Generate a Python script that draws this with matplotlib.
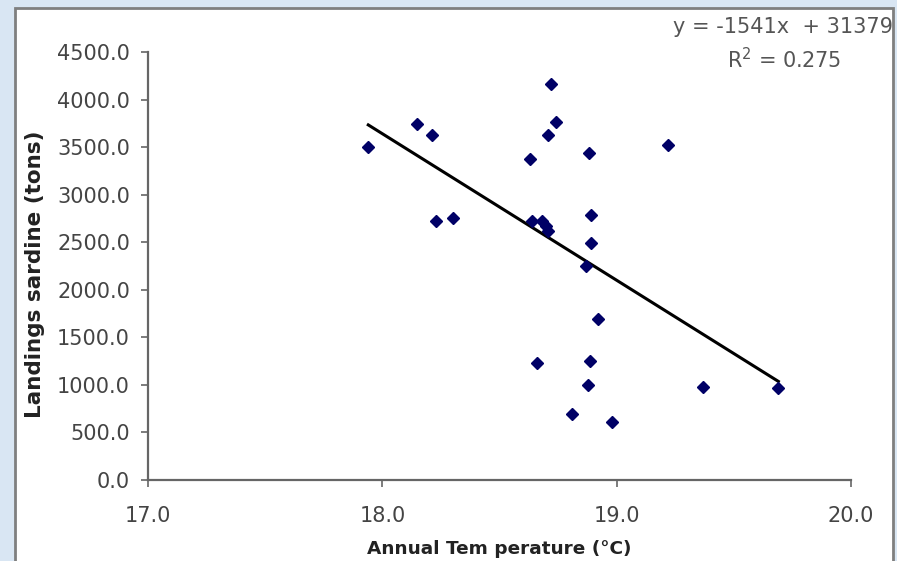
import matplotlib.pyplot as plt
from matplotlib.patches import Rectangle

plt.rcParams['font.family'] = ['DejaVu Sans']

# annual temperature (degC) vs sardine landings (tons)
temperature = [17.94, 18.15, 18.21, 18.23, 18.30, 18.72, 18.74, 18.705, 18.63, 18.88,
               19.22, 18.64, 18.68, 18.70, 18.705, 18.89, 18.89, 18.87, 18.92, 18.66,
               18.885, 18.876, 18.81, 18.98, 19.37, 19.69]
landings = [3500, 3742, 3626, 2722, 2754, 4162, 3763, 3626, 3374, 3437,
            3521, 2722, 2722, 2670, 2620, 2785, 2490, 2249, 1692, 1230,
            1250, 999, 694, 610, 978, 967]

slope = -1541
intercept = 31379
r_squared = 0.275

x_ticks = [17.0, 18.0, 19.0, 20.0]
y_ticks = [0, 500, 1000, 1500, 2000, 2500, 3000, 3500, 4000, 4500]

fig = plt.figure(figsize=(8.97, 5.61), dpi=100, facecolor='#d9e6f3')

# white chart area with grey frame
frame = Rectangle((15 / 897, -0.05), (893 - 15) / 897, 1.05 - 8 / 561,
                  transform=fig.transFigure, facecolor='white', edgecolor='#7f7f7f',
                  linewidth=2, zorder=0)
fig.patches.append(frame)

ax = fig.add_axes([148 / 897, 1 - 480 / 561, (851 - 148) / 897, (480 - 52) / 561])
ax.set_zorder(2)
ax.set_facecolor('none')

ax.plot(temperature, landings, linestyle='none', marker='D', markersize=6,
        color='#000066', zorder=3)

x_fit = [min(temperature), max(temperature)]
y_fit = [slope * x + intercept for x in x_fit]
ax.plot(x_fit, y_fit, color='black', linewidth=2.2, zorder=2)

ax.set_xlim(17, 20)
ax.set_ylim(0, 4500)
ax.set_xticks(x_ticks)
ax.set_xticklabels(['%.1f' % t for t in x_ticks])
ax.set_yticks(y_ticks)
ax.set_yticklabels(['%.1f' % t for t in y_ticks])

for side in ['top', 'right']:
    ax.spines[side].set_visible(False)
for side in ['left', 'bottom']:
    ax.spines[side].set_color('#666666')
    ax.spines[side].set_linewidth(1.6)

ax.tick_params(axis='both', direction='out', length=5, width=1.2, color='#666666',
               labelsize=15, labelcolor='#444444')
ax.tick_params(axis='x', pad=14)
ax.tick_params(axis='y', pad=8)

ax.set_ylabel('Landings sardine (tons)', fontsize=15.5, fontweight='bold', color='#222222')
ax.yaxis.set_label_coords(-0.146, 0.48)
ax.set_xlabel('Annual Tem perature (\u00b0C)', fontsize=13.3, fontweight='bold', color='#222222')
ax.xaxis.set_label_coords(0.4993, -0.14)

fig.text(893 / 897, 1 - 27 / 561, 'y = %dx  + %d' % (slope, intercept), ha='right',
         va='center', fontsize=15, color='#555555', zorder=3)
fig.text(784 / 897, 1 - 60 / 561, 'R$^2$ = %.3f' % r_squared, ha='center', va='center',
         fontsize=15, color='#555555', zorder=3)

fig.savefig('out.png', dpi=100, facecolor=fig.get_facecolor())
